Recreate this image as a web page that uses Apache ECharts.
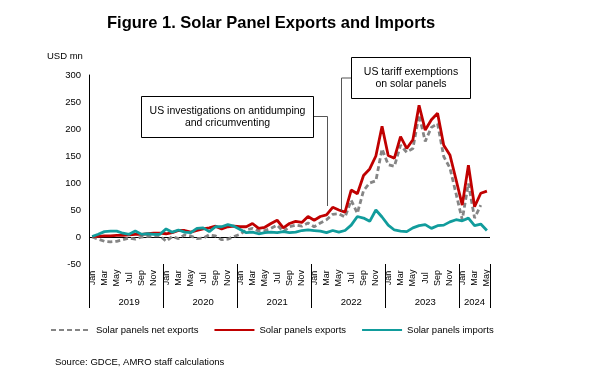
<!DOCTYPE html>
<html>
<head>
<meta charset="utf-8">
<script src="https://cdn.jsdelivr.net/npm/echarts@6/dist/echarts.min.js"></script>
<style>
html,body{margin:0;padding:0;background:#fff;}
#chart{width:600px;height:382px;}
</style>
</head>
<body>
<div id="chart"></div>
<script>
var monthNames = ['Jan','Feb','Mar','Apr','May','Jun','Jul','Aug','Sep','Oct','Nov','Dec'];
var years = ['2019','2020','2021','2022','2023','2024'];
var lastMonthCount = 5; // Jan–May 2024

var netExports = [
  0, -4, -8, -9, -8, -5, -2, -4, 0, 1, 2, 2,
  -8, 1, -3, 4, 2, -3, -2, 4, 2, -5, -4, 1,
  5, 13, 16, 11, 12, 16, 22, 10, 19, 22, 20, 26,
  19, 26, 32, 42, 43, 37, 68, 44, 86, 100, 104, 163,
  134, 131, 170, 157, 164, 226, 177, 203, 210, 149, 128, 80,
  32, 99, 35, 59
];
var exportsData = [
  1, 1, 2, 2, 3, 3, 4, 5, 5, 6, 7, 7,
  6, 8, 12, 12, 9, 12, 15, 17, 20, 15, 19, 20,
  19, 19, 25, 16, 18, 25, 31, 17, 25, 29, 27, 38,
  31, 38, 41, 55, 50, 46, 87, 80, 114, 126, 150, 205,
  151, 146, 186, 164, 180, 244, 198, 217, 229, 170, 152, 106,
  59, 133, 56, 81, 85
];
var importsData = [
  1, 5, 10, 11, 11, 7, 5, 11, 5, 6, 5, 5,
  15, 9, 13, 9, 8, 16, 17, 10, 19, 19, 23, 20,
  14, 8, 9, 6, 8, 9, 8, 10, 8, 9, 12, 13,
  12, 11, 8, 12, 9, 12, 22, 38, 35, 29, 50, 37,
  22, 13, 11, 10, 17, 21, 23, 16, 21, 22, 28, 32,
  30, 35, 21, 24, 12
];
var yTicks = { min: -50, max: 300, interval: 50 };

// Build categories
var categories = [];
years.forEach(function (y, yi) {
  var n = (yi === years.length - 1) ? lastMonthCount : 12;
  for (var m = 0; m < n; m++) categories.push(monthNames[m] + ' ' + y);
});
// index at which each year label is shown
var yearLabelIdx = {};
years.forEach(function (y, yi) {
  var n = (yi === years.length - 1) ? lastMonthCount : 12;
  yearLabelIdx[yi * 12 + Math.floor(n / 2)] = y;
});

var FONT = '"Liberation Sans", Arial, sans-serif';
var chart = echarts.init(document.getElementById('chart'), null, { renderer: 'canvas' });

var option = {
  animation: false,
  backgroundColor: '#fff',
  textStyle: { fontFamily: FONT, color: '#000' },
  title: {
    text: 'Figure 1. Solar Panel Exports and Imports',
    left: 107, top: 15, padding: 0,
    textStyle: { fontFamily: FONT, fontSize: 16.5, fontWeight: 'bold', color: '#000' }
  },
  grid: { left: 89, right: 110, top: 75, bottom: 118, containLabel: false },
  legend: {
    left: 45, top: 320, itemWidth: 40, itemHeight: 10, itemGap: 15,
    itemStyle: { opacity: 0 },
    textStyle: { fontFamily: FONT, fontSize: 9.5, color: '#000' },
    data: ['Solar panels net exports', 'Solar panels exports', 'Solar panels imports']
  },
  xAxis: [{
    type: 'category', data: categories, boundaryGap: true,
    axisLine: { show: false, onZero: false },
    axisTick: {
      show: true, length: 44,
      interval: function (idx) { return idx % 12 === 0; },
      lineStyle: { color: '#000', width: 1 }
    },
    axisLabel: {
      interval: function (idx) { return idx % 2 === 0; },
      rotate: 90, align: 'center', verticalAlign: 'middle', margin: 14,
      fontFamily: FONT, fontSize: 9, color: '#000',
      formatter: function (v) { return v.slice(0, 3); }
    },
    splitLine: { show: false }
  }, {
    type: 'category', data: categories, boundaryGap: true, position: 'bottom',
    axisLine: { show: false, onZero: false },
    axisTick: { show: false },
    axisLabel: {
      interval: function (idx) { return yearLabelIdx.hasOwnProperty(idx); },
      margin: 33, fontFamily: FONT, fontSize: 9.5, color: '#000',
      formatter: function (v, idx) { return yearLabelIdx[idx] || ''; }
    },
    splitLine: { show: false }
  }],
  yAxis: {
    type: 'value', min: yTicks.min, max: yTicks.max, interval: yTicks.interval,
    axisLine: { show: true, lineStyle: { color: '#000', width: 1 } },
    axisTick: { show: false },
    splitLine: { show: false },
    axisLabel: { margin: 8, fontFamily: FONT, fontSize: 9.5, color: '#000' }
  },
  series: [{
    name: 'Solar panels net exports', type: 'line', data: netExports,
    symbol: 'none', z: 3,
    lineStyle: { color: '#858585', width: 2.8, type: [5, 3] },
    itemStyle: { color: '#858585' },
    markLine: {
      silent: true, symbol: 'none', label: { show: false },
      lineStyle: { color: '#000', width: 1, type: 'solid' },
      data: [{ yAxis: 0 }], z: 1
    }
  }, {
    name: 'Solar panels exports', type: 'line', data: exportsData,
    symbol: 'none', z: 4,
    lineStyle: { color: '#c00000', width: 2.8 },
    itemStyle: { color: '#c00000' }
  }, {
    name: 'Solar panels imports', type: 'line', data: importsData,
    symbol: 'none', z: 5,
    lineStyle: { color: '#119c9c', width: 2.8 },
    itemStyle: { color: '#119c9c' }
  }],
  graphic: [
    { type: 'text', left: 47, top: 51, style: { text: 'USD mn', fontFamily: FONT, fontSize: 9.5, fill: '#000' } },
    { type: 'text', left: 55, top: 357, style: { text: 'Source: GDCE, AMRO staff calculations', fontFamily: FONT, fontSize: 9.5, fill: '#000' } },
    // annotation 1
    { type: 'polyline', shape: { points: [[313, 116.5], [327.5, 116.5], [327.5, 206]] }, style: { stroke: '#555', lineWidth: 1, fill: null }, z: 10 },
    { type: 'rect', shape: { x: 141.5, y: 96.5, width: 172, height: 41 }, style: { fill: '#fff', stroke: '#000', lineWidth: 1 }, z: 11 },
    { type: 'text', x: 227.5, y: 117, style: { text: 'US investigations on antidumping\nand cricumventing', fontFamily: FONT, fontSize: 10.5, lineHeight: 12, fill: '#000', align: 'center', verticalAlign: 'middle' }, z: 12 },
    // annotation 2
    { type: 'polyline', shape: { points: [[351.5, 78], [341.5, 78], [341.5, 211]] }, style: { stroke: '#555', lineWidth: 1, fill: null }, z: 10 },
    { type: 'rect', shape: { x: 351.5, y: 57.5, width: 119, height: 41 }, style: { fill: '#fff', stroke: '#000', lineWidth: 1 }, z: 11 },
    { type: 'text', x: 411, y: 78.5, style: { text: 'US tariff exemptions\non solar panels', fontFamily: FONT, fontSize: 10.5, lineHeight: 12, fill: '#000', align: 'center', verticalAlign: 'middle' }, z: 12 }
  ]
};
chart.setOption(option);
</script>
</body>
</html>
